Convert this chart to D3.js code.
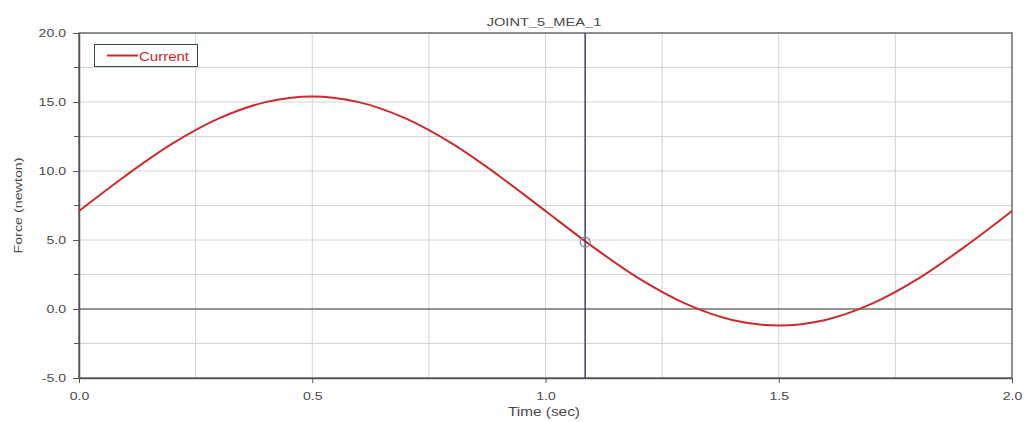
<!DOCTYPE html>
<html><head><meta charset="utf-8">
<script src="https://cdn.jsdelivr.net/npm/d3@7"></script>
<style>body{margin:0;background:#fff;} text{font-family:Arial,"Liberation Sans",sans-serif;}</style>
</head><body>
<svg id="c" width="1024" height="422"></svg>
<script>
const times = [0.0,0.1,0.2,0.3,0.4,0.5,0.6,0.7,0.8,0.9,1.0,1.1,1.2,1.3,1.4,1.5,1.6,1.7,1.8,1.9,2.0];
const force = [7.1,9.66,11.98,13.81,14.99,15.4,14.99,13.81,11.98,9.66,7.1,4.54,2.22,0.39,-0.79,-1.2,-0.79,0.39,2.22,4.54,7.1];
const xTicks = [0.0,0.5,1.0,1.5,2.0];
const yTicks = [-5.0,0.0,5.0,10.0,15.0,20.0];
const xGrid = [0.25,0.5,0.75,1.0,1.25,1.5,1.75];
const yGrid = [-2.5,0,2.5,5,7.5,10,12.5,15,17.5];
const cursorT = 1.085, cursorV = 4.85;
const title = "JOINT_5_MEA_1", seriesName = "Current";

const svg = d3.select("#c");
const L=79,R=1012,T=33,B=378;
const x = d3.scaleLinear().domain([0,2]).range([L,R]);
const y = d3.scaleLinear().domain([-5,20]).range([B,T]);
const K = 1.28;
const fmt = d => d.toFixed(1);
function stretch(sel,k){ sel.each(function(){ const w=this.getComputedTextLength(); d3.select(this).attr("textLength",w*k).attr("lengthAdjust","spacingAndGlyphs"); }); }

svg.append("g").selectAll("line").data(xGrid).join("line")
  .attr("x1",d=>x(d)).attr("x2",d=>x(d)).attr("y1",T).attr("y2",B)
  .attr("stroke","#d4d4d4").attr("stroke-width",1);
svg.append("g").selectAll("line").data(yGrid).join("line")
  .attr("x1",L).attr("x2",R).attr("y1",d=>y(d)).attr("y2",d=>y(d))
  .attr("stroke",d=>d===0?"#707070":"#d4d4d4").attr("stroke-width",d=>d===0?1.5:1);

// frame
svg.append("rect").attr("x",L).attr("y",T).attr("width",R-L).attr("height",B-T)
  .attr("fill","none").attr("stroke","#6a6a6a").attr("stroke-width",1.5);

// y axis
const ya = svg.append("g").attr("transform",`translate(${L},0)`)
  .call(d3.axisLeft(y).tickValues(yTicks).tickFormat(fmt).tickSize(6).tickSizeOuter(0));
ya.select(".domain").attr("stroke","#555").attr("stroke-width",1.5);
ya.selectAll(".tick line").attr("stroke","#555");
ya.selectAll("text").attr("font-size",11).attr("fill","#4a4a4a").attr("x",-13).call(stretch,K);
svg.append("g").selectAll("line").data(yGrid.filter(d=>d%5!==0)).join("line")
  .attr("x1",L-5).attr("x2",L).attr("y1",d=>y(d)).attr("y2",d=>y(d)).attr("stroke","#555");

// x axis
const xa = svg.append("g").attr("transform",`translate(0,${B})`)
  .call(d3.axisBottom(x).tickValues(xTicks).tickFormat(fmt).tickSize(5).tickSizeOuter(0));
xa.select(".domain").attr("stroke","#555").attr("stroke-width",1.5);
xa.selectAll(".tick line").attr("stroke","#555");
xa.selectAll("text").attr("font-size",11).attr("fill","#4a4a4a").attr("y",14).call(stretch,K);

// curve
const line = d3.line().x((d,i)=>x(times[i])).y(d=>y(d)).curve(d3.curveCatmullRom);
svg.append("path").attr("d",line(force)).attr("fill","none")
  .attr("stroke","#cc2a2a").attr("stroke-width",2);

// cursor
svg.append("line").attr("x1",x(cursorT)).attr("x2",x(cursorT)).attr("y1",T).attr("y2",B)
  .attr("stroke","#3d4660").attr("stroke-width",1.5);
svg.append("circle").attr("cx",x(cursorT)).attr("cy",y(cursorV)).attr("r",5)
  .attr("fill","none").attr("stroke","#8a7a9a").attr("stroke-width",1.2);

// legend
svg.append("rect").attr("x",94.5).attr("y",44.5).attr("width",103).attr("height",22)
  .attr("fill","#fff").attr("stroke","#2f4f3f").attr("stroke-width",1);
svg.append("line").attr("x1",107).attr("x2",138).attr("y1",55.5).attr("y2",55.5)
  .attr("stroke","#cc2a2a").attr("stroke-width",2);
svg.append("text").attr("x",139).attr("y",61).attr("font-size",12).attr("fill","#cc2a2a").text(seriesName).call(stretch,1.25);

// titles
svg.append("text").attr("x",544).attr("y",26).attr("text-anchor","middle").attr("font-size",11).attr("fill","#4a4a4a").text(title).call(stretch,1.33);
svg.append("text").attr("x",544).attr("y",416).attr("text-anchor","middle").attr("font-size",12).attr("fill","#4a4a4a").text("Time (sec)").call(stretch,K);
svg.append("text").attr("transform",`translate(22,${(T+B)/2}) rotate(-90)`).attr("text-anchor","middle")
  .attr("font-size",11).attr("fill","#4a4a4a").text("Force (newton)").call(stretch,1.3);
</script>
</body></html>
